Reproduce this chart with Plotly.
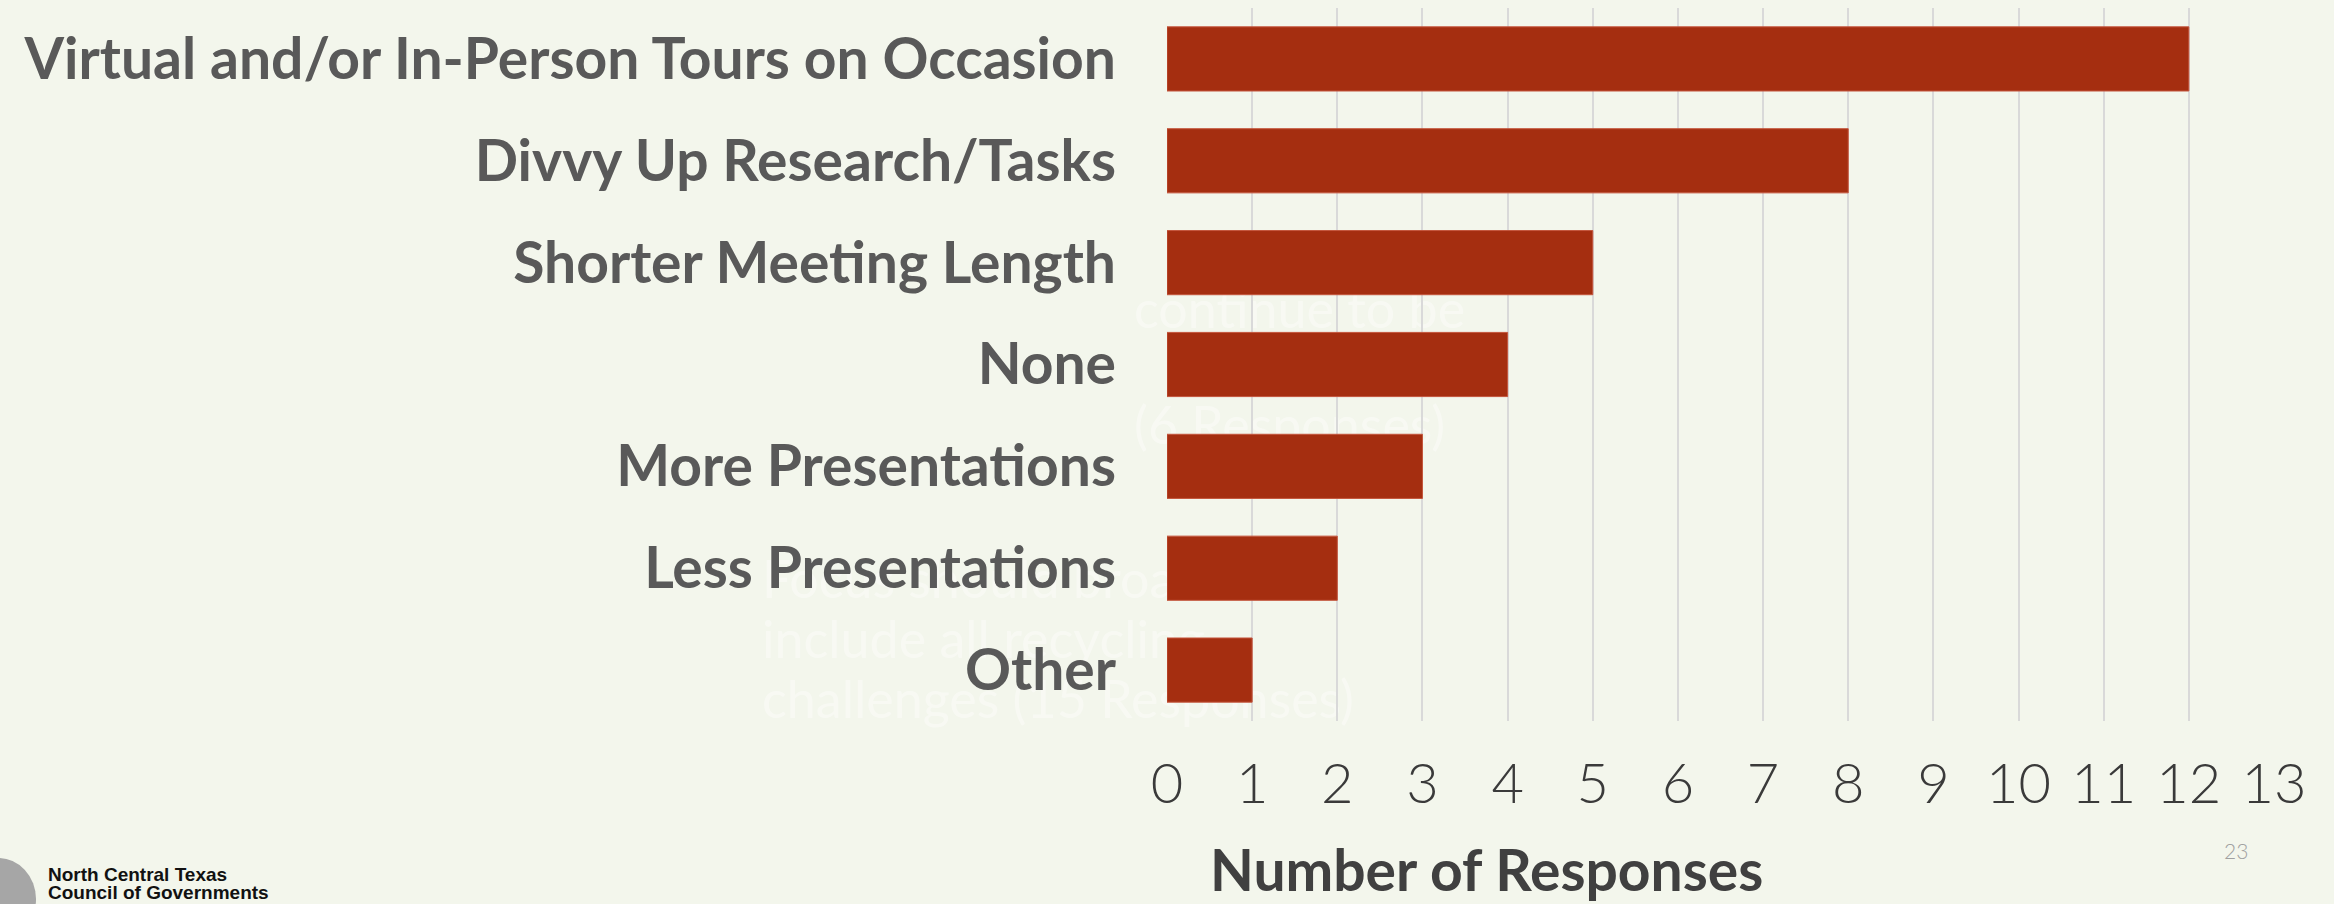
import plotly.graph_objects as go

categories = [
    "Virtual and/or In-Person Tours on Occasion",
    "Divvy Up Research/Tasks",
    "Shorter Meeting Length",
    "None",
    "More Presentations",
    "Less Presentations",
    "Other",
]
responses = [12, 8, 5, 4, 3, 2, 1]
x_ticks = list(range(0, 14))
x_title = "Number of Responses"

W, H = 2334, 904
PL, PR, PT, PB = 1167, 2274, 8, 721  # plot area in px


def px(xp):
    return (xp - PL) / (PR - PL)


def py(yp):
    return (PB - yp) / (PB - PT)


fig = go.Figure(
    go.Bar(
        x=responses,
        y=categories,
        orientation="h",
        marker=dict(color="#A52E10", line=dict(color="#C4553C", width=1)),
        hoverinfo="x+y",
    )
)

shapes = []
ghost = [
    ("continue to be", 1128, 307),
    ("(6 Responses)", 1128, 423),
    ("Focus should broaden to", 756, 577),
    ("include all recycling", 756, 637),
    ("challenges (15 Responses)", 756, 697),
]
for txt, gx, gy in ghost:
    shapes.append(dict(
        type="rect", xref="paper", yref="paper", layer="below",
        x0=px(gx), x1=px(gx + 700), y0=py(gy + 30), y1=py(gy - 30),
        line=dict(width=0), fillcolor="rgba(0,0,0,0)",
        label=dict(text=txt, textposition="middle left",
                   font=dict(family="Lato", size=52, color="rgba(255,255,255,0.4)")),
    ))
# logo gear (grey disc, partially cut off)
shapes.append(dict(
    type="circle", xref="paper", yref="paper", layer="above",
    x0=px(-40), x1=px(36), y0=py(940), y1=py(858),
    line=dict(width=0), fillcolor="#A6A6A6",
))

annotations = [
    dict(text=f"<b>{x_title}</b>", xref="paper", yref="paper",
         x=px(1486), y=py(869), xanchor="center", yanchor="middle", showarrow=False,
         font=dict(family="Lato", size=57, color="#404040")),
    dict(text="23", xref="paper", yref="paper",
         x=px(2236), y=py(850), xanchor="center", yanchor="middle", showarrow=False,
         font=dict(family="Lato", size=21, color="#A0A0A0", weight=300)),
    dict(text="<b>North Central Texas</b>", xref="paper", yref="paper",
         x=px(46), y=py(874), xanchor="left", yanchor="middle", showarrow=False,
         font=dict(family="Liberation Sans", size=19, color="#111111")),
    dict(text="<b>Council of Governments</b>", xref="paper", yref="paper",
         x=px(46), y=py(892), xanchor="left", yanchor="middle", showarrow=False,
         font=dict(family="Liberation Sans", size=19, color="#111111")),
]

fig.update_layout(
    width=W, height=H,
    margin=dict(l=PL, r=W - PR, t=PT, b=H - PB, pad=0),
    paper_bgcolor="#F3F6EC",
    plot_bgcolor="rgba(0,0,0,0)",
    bargap=0.37,
    showlegend=False,
    shapes=shapes,
    annotations=annotations,
    xaxis=dict(
        range=[0, 13], tickmode="array", tickvals=x_ticks,
        ticktext=[str(v) for v in x_ticks],
        showgrid=True, gridcolor="#D9D9D9", gridwidth=2,
        zeroline=False, showline=False, ticks="",
        tickfont=dict(family="Lato", size=56, color="#3A3A3A", weight=300),
        ticklabelstandoff=25,
    ),
    yaxis=dict(
        categoryorder="array", categoryarray=categories, autorange="reversed",
        showgrid=False, zeroline=False, showline=False, ticks="",
        tickfont=dict(family="Lato", size=57, color="#595959", weight=700),
        ticklabelstandoff=50,
    ),
)

fig.write_html(
    "out.html",
    config={"displayModeBar": False},
    post_script="document.body.style.margin='0';document.body.style.overflow='hidden';",
)
